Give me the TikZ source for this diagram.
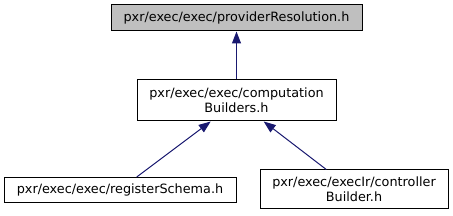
\documentclass[tikz,border=0pt]{standalone}
\usepackage{fontspec}
\setmainfont{DejaVu Sans}
\usetikzlibrary{arrows.meta,calc}
\definecolor{edgeblue}{HTML}{191970}
\definecolor{hlgrey}{HTML}{BFBFBF}
\begin{document}
\begin{tikzpicture}[x=1pt,y=-1pt,
  box/.style={draw=black,line width=1pt,inner sep=0pt,align=center,font=\fontsize{12.8}{15}\selectfont},
  edge/.style={draw=edgeblue,line width=1pt,-{Triangle[length=12pt,width=9pt]}}]
\useasboundingbox (0,0) rectangle (453,216);
\node[box,fill=hlgrey,minimum width=251pt,minimum height=26pt] (top) at (236.5,18) {pxr/exec/exec/providerResolution.h};
\node[box,minimum width=199pt,minimum height=41pt] (mid) at (236.5,100.5) {pxr/exec/exec/computation\\Builders.h};
\node[box,minimum width=232pt,minimum height=25pt] (bl) at (120,190) {pxr/exec/exec/registerSchema.h};
\node[box,minimum width=188pt,minimum height=39pt] (br) at (354,189.5) {pxr/exec/execIr/controller\\Builder.h};
\draw[edge] (mid.north) -- (top.south);
\draw[edge] ($(bl.north)+(16.7,0)$) -- ($(mid.south)+(-25.8,0)$);
\draw[edge] ($(br.north)+(-27.7,0)$) -- ($(mid.south)+(27.2,0)$);
\end{tikzpicture}
\end{document}
